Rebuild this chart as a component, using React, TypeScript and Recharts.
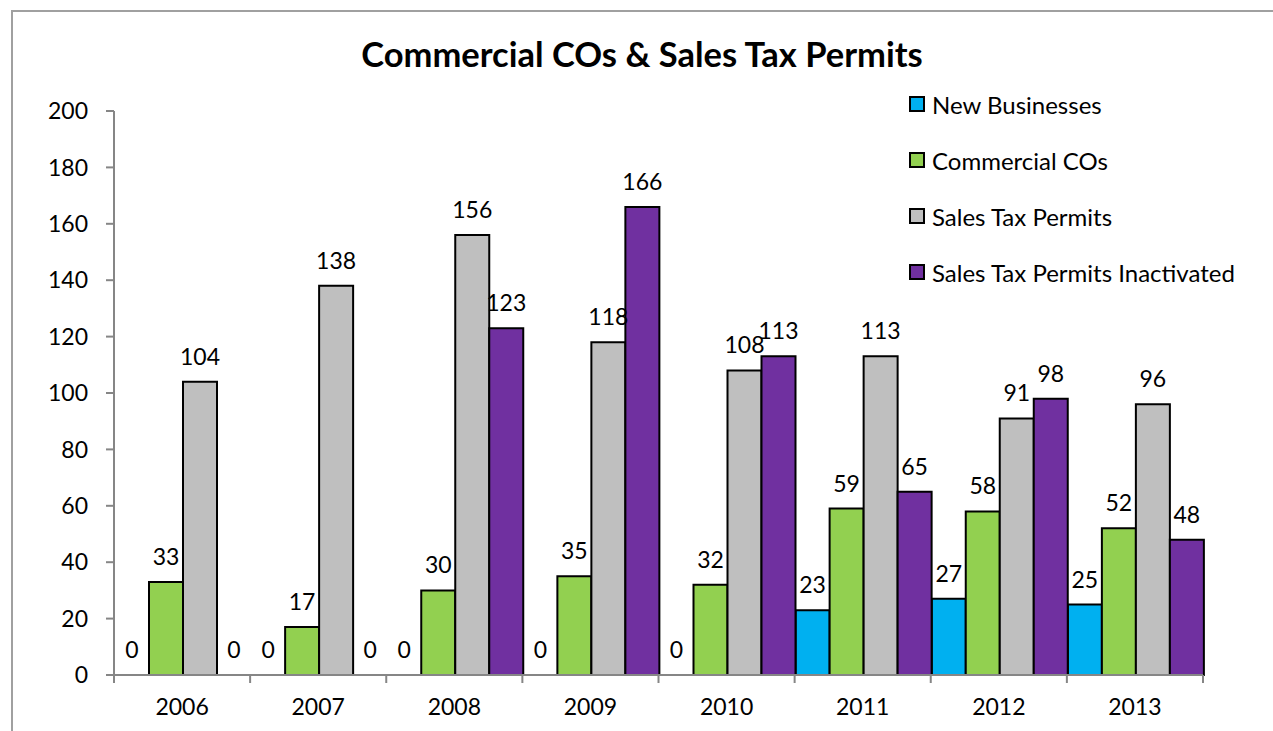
import React from 'react';
import { BarChart, Bar, XAxis, YAxis, LabelList, Rectangle } from 'recharts';

const years = ['2006', '2007', '2008', '2009', '2010', '2011', '2012', '2013'];
const newBusinesses = [0, 0, 0, 0, 0, 23, 27, 25];
const commercialCOs = [33, 17, 30, 35, 32, 59, 58, 52];
const salesTaxPermits = [104, 138, 156, 118, 108, 113, 91, 96];
const salesTaxInactivated = [0, 0, 123, 166, 113, 65, 98, 48];
const yTicks = [0, 20, 40, 60, 80, 100, 120, 140, 160, 180, 200];

const seriesNames = ['New Businesses', 'Commercial COs', 'Sales Tax Permits', 'Sales Tax Permits Inactivated'];
const seriesColors = ['#00B0F0', '#92D050', '#BFBFBF', '#7030A0'];

const data = years.map((y, i) => ({
  year: y,
  nb: newBusinesses[i],
  co: commercialCOs[i],
  stp: salesTaxPermits[i],
  stpi: salesTaxInactivated[i],
}));

const FONT = 'Lato, "Open Sans", sans-serif';
const AXIS = '#868686';
const X_TICK_MARGIN = 23;

const renderLabel = (props: any) => {
  const { x, y, width, height, value } = props;
  if (value === null || value === undefined) return null;
  const top = Math.min(Number(y), Number(y) + Number(height || 0));
  const base = Number(value) === 0 ? Math.max(Number(y), Number(y) + Number(height || 0)) : top;
  return (
    <text x={Number(x) + Number(width) / 2} y={base - 17} textAnchor="middle" fontSize={23} fill="#000" fontFamily={FONT}>
      {value}
    </text>
  );
};

const barShape = (props: any) => {
  const v = Number(props.value);
  if (!v) return <g />;
  return <Rectangle {...props} />;
};

const XTick = (props: any) => {
  const { x, y, payload, index, visibleTicksCount, width } = props;
  const n = visibleTicksCount || years.length;
  const half = payload && payload.offset ? payload.offset : Number(width) / n / 2;
  const axisY = Number(y) - X_TICK_MARGIN;
  return (
    <g>
      <line x1={x - half} x2={x - half} y1={axisY} y2={axisY + 8} stroke={AXIS} strokeWidth={2} />
      {index === n - 1 && <line x1={x + half} x2={x + half} y1={axisY} y2={axisY + 8} stroke={AXIS} strokeWidth={2} />}
      <text x={x} y={axisY + 40} textAnchor="middle" fontSize={23} fill="#000" fontFamily={FONT}>
        {payload.value}
      </text>
    </g>
  );
};

const LegendBox = () => (
  <div style={{ position: 'absolute', left: 909, top: 76, fontFamily: FONT }}>
    {seriesNames.map((n, i) => (
      <div key={n} style={{ display: 'flex', alignItems: 'center', height: 56 }}>
        <div style={{ width: 16, height: 16, background: seriesColors[i], border: '2.5px solid #000', boxSizing: 'border-box', marginRight: 7 }} />
        <span style={{ fontSize: 24, color: '#000', whiteSpace: 'nowrap' }}>{n}</span>
      </div>
    ))}
  </div>
);

export default function App() {
  return (
    <div style={{ position: 'absolute', left: 0, top: 0, width: 1273, height: 731, background: '#fff', overflow: 'hidden' }}>
      <div style={{ position: 'absolute', left: 11, top: 10, width: 1300, height: 800, borderLeft: '2px solid #A0A0A0', borderTop: '2px solid #A0A0A0' }} />
      <div style={{ position: 'absolute', left: 0, top: 33, width: 1284, textAlign: 'center', fontFamily: FONT, fontWeight: 'bold', fontSize: 34.5, color: '#000' }}>
        Commercial COs &amp; Sales Tax Permits
      </div>
      <div style={{ position: 'absolute', left: 0, top: 0 }}>
        <BarChart
          width={1273}
          height={731}
          data={data}
          margin={{ top: 111, right: 70, bottom: 16, left: 54 }}
          barGap={0}
          barCategoryGap={1}
        >
          <XAxis dataKey="year" tickLine={false} tickSize={0} tickMargin={X_TICK_MARGIN} height={40} axisLine={{ stroke: AXIS, strokeWidth: 2 }} tick={<XTick />} interval={0} />
          <YAxis domain={[0, 200]} ticks={yTicks} width={60} tickSize={8} tickMargin={18} axisLine={{ stroke: AXIS, strokeWidth: 2 }} tickLine={{ stroke: AXIS, strokeWidth: 2 }} tick={{ fontSize: 23, fill: '#000', fontFamily: FONT }} interval={0} />
          <Bar dataKey="nb" name={seriesNames[0]} fill={seriesColors[0]} stroke="#000" strokeWidth={2} minPointSize={1} shape={barShape} isAnimationActive={false}>
            <LabelList dataKey="nb" content={renderLabel} />
          </Bar>
          <Bar dataKey="co" name={seriesNames[1]} fill={seriesColors[1]} stroke="#000" strokeWidth={2} minPointSize={1} shape={barShape} isAnimationActive={false}>
            <LabelList dataKey="co" content={renderLabel} />
          </Bar>
          <Bar dataKey="stp" name={seriesNames[2]} fill={seriesColors[2]} stroke="#000" strokeWidth={2} minPointSize={1} shape={barShape} isAnimationActive={false}>
            <LabelList dataKey="stp" content={renderLabel} />
          </Bar>
          <Bar dataKey="stpi" name={seriesNames[3]} fill={seriesColors[3]} stroke="#000" strokeWidth={2} minPointSize={1} shape={barShape} isAnimationActive={false}>
            <LabelList dataKey="stpi" content={renderLabel} />
          </Bar>
        </BarChart>
      </div>
      <LegendBox />
    </div>
  );
}
